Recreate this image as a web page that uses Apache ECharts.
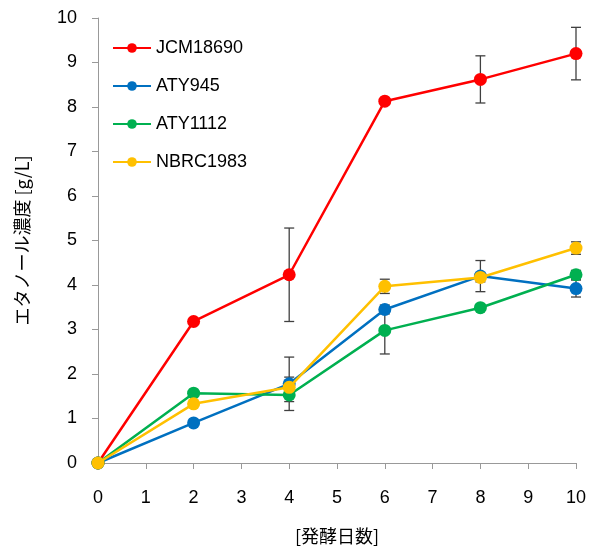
<!DOCTYPE html>
<html>
<head>
<meta charset="utf-8">
<script src="https://cdn.jsdelivr.net/npm/echarts@6/dist/echarts.min.js"></script>
<style>html,body{margin:0;padding:0;background:#fff}#c{width:596px;height:551px}</style>
</head>
<body>
<div id="c"></div>
<script>
var days = [0, 2, 4, 6, 8, 10];
var seriesNames = ['JCM18690', 'ATY945', 'ATY1112', 'NBRC1983'];
var jcm18690 = [0, 3.18, 4.23, 8.13, 8.62, 9.20];
var aty945 = [0, 0.90, 1.78, 3.45, 4.20, 3.92];
var aty1112 = [0, 1.57, 1.53, 2.98, 3.49, 4.23];
var nbrc1983 = [0, 1.33, 1.70, 3.97, 4.17, 4.83];
var errJcm18690 = [0, 0, 1.05, 0, 0.53, 0.59];
var errAty945 = [0, 0, 0.60, 0.10, 0.35, 0.19];
var errAty1112 = [0, 0, 0.15, 0.53, 0.06, 0.10];
var errNbrc1983 = [0, 0, 0.23, 0.16, 0.10, 0.14];
var yTicks = [0,1,2,3,4,5,6,7,8,9,10];
var colors = ['#FF0000', '#0070C0', '#00B050', '#FFC000'];

var values = [jcm18690, aty945, aty1112, nbrc1983];
var errs = [errJcm18690, errAty945, errAty1112, errNbrc1983];

var font = '"Liberation Sans", Arial, sans-serif';
var series = [];
var errData = [];
values.forEach(function (v, i) {
  v.forEach(function (y, j) {
    if (errs[i][j] > 0) errData.push([days[j], y - errs[i][j], y + errs[i][j]]);
  });
});
series.push({
  type: 'custom',
  name: 'err',
  z: 1,
  silent: true,
  renderItem: function (params, api) {
    var x = api.value(0);
    var lo = api.coord([x, api.value(1)]);
    var hi = api.coord([x, api.value(2)]);
    var w = 5;
    var st = {stroke: '#404040', lineWidth: 1.3};
    return {type: 'group', children: [
      {type: 'line', shape: {x1: lo[0], y1: lo[1], x2: hi[0], y2: hi[1]}, style: st},
      {type: 'line', shape: {x1: lo[0]-w, y1: lo[1], x2: lo[0]+w, y2: lo[1]}, style: st},
      {type: 'line', shape: {x1: hi[0]-w, y1: hi[1], x2: hi[0]+w, y2: hi[1]}, style: st}
    ]};
  },
  encode: {x: 0, y: [1, 2]},
  data: errData
});
values.forEach(function (v, i) {
  series.push({
    type: 'line',
    name: seriesNames[i],
    z: 2 + i,
    data: v.map(function (y, j) { return [days[j], y]; }),
    symbol: 'circle',
    symbolSize: 13,
    lineStyle: {color: colors[i], width: 2.5},
    itemStyle: {color: colors[i]},
    animation: false
  });
});

var chart = echarts.init(document.getElementById('c'));
chart.setOption({
  animation: false,
  backgroundColor: '#fff',
  grid: {left: 98, right: 20, top: 18, bottom: 88, containLabel: false},
  legend: {
    data: seriesNames,
    orient: 'vertical',
    left: 107,
    top: 34,
    itemWidth: 38,
    itemHeight: 12,
    itemGap: 20,
    textStyle: {fontFamily: font, fontSize: 18, color: '#000'}
  },
  xAxis: {
    type: 'value', min: 0, max: 10, interval: 1,
    name: '[発酵日数]', nameLocation: 'middle', nameGap: 64,
    nameTextStyle: {fontFamily: '"Noto Sans CJK JP", sans-serif', fontSize: 18, color: '#000'},
    axisLine: {show: true, lineStyle: {color: '#999', width: 1}},
    axisTick: {show: true, length: 6, inside: false, lineStyle: {color: '#999'}},
    axisLabel: {margin: 26, fontFamily: font, fontSize: 18, color: '#000'},
    splitLine: {show: false}
  },
  yAxis: {
    type: 'value', min: 0, max: 10, interval: 1,
    name: 'エタノール濃度 [g/L]', nameLocation: 'middle', nameGap: 67, nameRotate: 90,
    nameTextStyle: {fontFamily: '"Noto Sans CJK JP", sans-serif', fontSize: 18, color: '#000'},
    axisLine: {show: true, lineStyle: {color: '#999', width: 1}},
    axisTick: {show: true, length: 6, inside: false, lineStyle: {color: '#999'}},
    axisLabel: {margin: 21, fontFamily: font, fontSize: 18, color: '#000',
      formatter: function (val) { return yTicks.indexOf(val) >= 0 ? String(val) : ''; }},
    splitLine: {show: false}
  },
  series: series
});
</script>
</body>
</html>
